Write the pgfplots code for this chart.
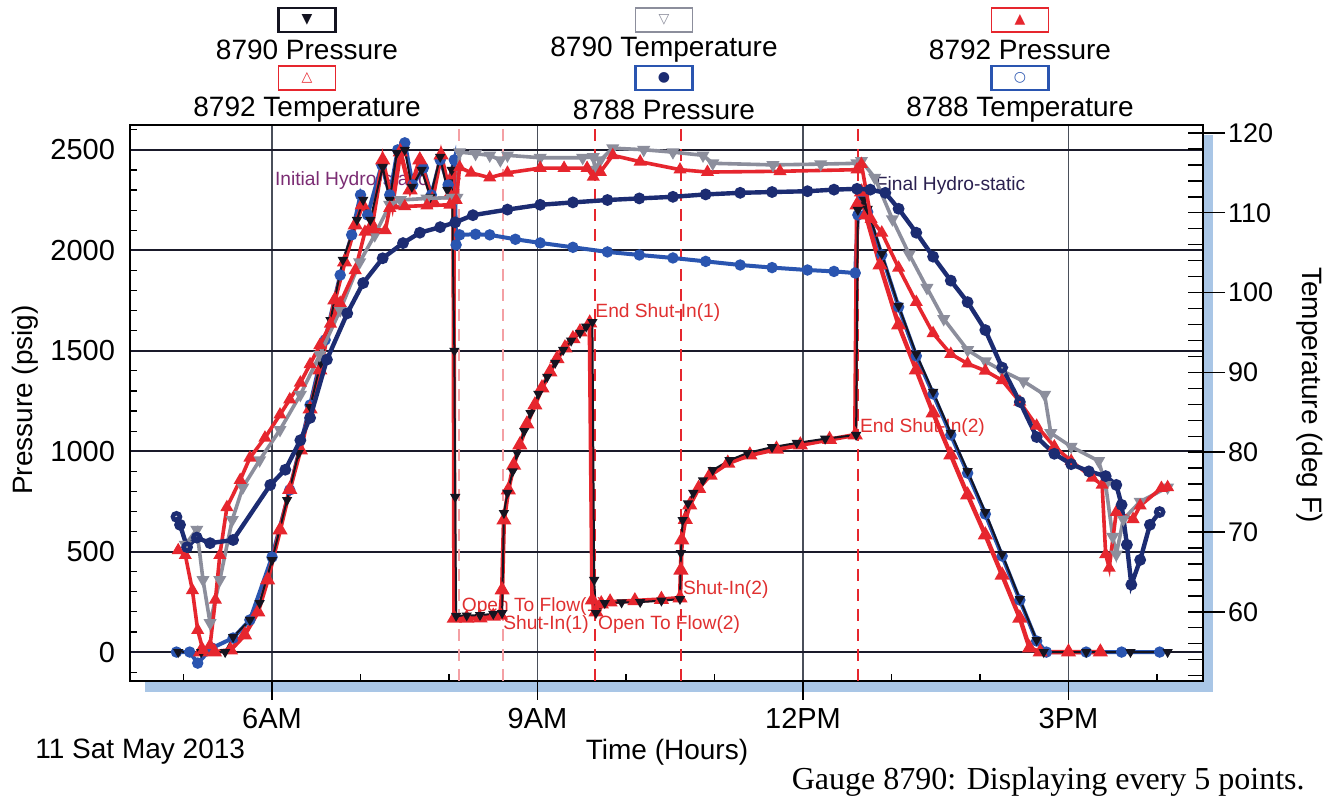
\documentclass[border=0pt]{standalone}
\usepackage{pgfplots}
\pgfplotsset{compat=1.18}
\usepackage{fontspec}
\setmainfont{Liberation Sans}
\newfontfamily\serifface{Liberation Serif}
\newfontfamily\symfont{DejaVu Sans}

\definecolor{cblack}{HTML}{141420}
\definecolor{cred}{HTML}{E6262E}
\definecolor{cblue}{HTML}{2A55B0}
\definecolor{cnavy}{HTML}{1C2C72}
\definecolor{cgray}{HTML}{8C8E9C}
\definecolor{cpink}{HTML}{F4A0A4}
\definecolor{shadowblue}{HTML}{A9C6E6}
\definecolor{gridnavy}{HTML}{1A1A2A}
\definecolor{gridgray}{HTML}{4A4F5A}
\definecolor{annred}{HTML}{E03030}
\definecolor{annpurple}{HTML}{7B2C73}
\definecolor{annnavy}{HTML}{2B2150}

\begin{document}
\begin{tikzpicture}[font=\fontsize{14}{16.8}\selectfont]
\path[use as bounding box] (0,0) rectangle (663.5pt,400.5pt);
% shadow behind plot frame
\fill[shadowblue] (72.5pt,54.5pt) rectangle (606.5pt,333pt);

% ---------- pressure axis (left) ----------
\begin{axis}[
    at={(65pt,60pt)}, anchor=south west,
    scale only axis, width=536.5pt, height=278pt,
    xmin=4.395, xmax=16.52,
    ymin=-144, ymax=2624,
    xtick={6,9,12,15},
    xticklabels={6AM,9AM,12PM,3PM},
    minor xtick={5,7,8,10,11,13,14,16},
    ytick={0,500,1000,1500,2000,2500},
    minor ytick={-100,100,200,300,400,600,700,800,900,1100,1200,1300,1400,1600,1700,1800,1900,2100,2200,2300,2400,2600},
    xtick pos=left, ytick pos=left,
    tick align=inside,
    major tick length=9.5pt,
    minor tick length=3.5pt,
    major x tick style={yshift=-9.5pt, line width=0.6pt, black},
    major y tick style={draw=none},
    minor tick style={line width=0.6pt, black},
    xmajorgrids, ymajorgrids,
    x grid style={gridgray, line width=0.9pt},
    y grid style={gridnavy, line width=1pt},
    axis line style={black, line width=0.8pt},
    axis background/.style={fill=white},
    /pgf/number format/1000 sep={},
    /pgf/number format/assume math mode=true,
    tick label style={font=\fontsize{14.5}{16}\selectfont},
    yticklabel style={xshift=-4pt},
    xticklabel style={yshift=-10pt},
]

% event markers
\addplot[cpink, line width=0.8pt, dash pattern=on 6pt off 4pt] coordinates {(8.11,-144) (8.11,2624)};
\addplot[cpink, line width=0.8pt, dash pattern=on 6pt off 4pt] coordinates {(8.61,-144) (8.61,2624)};
\addplot[cred, line width=0.8pt, dash pattern=on 6pt off 4pt] coordinates {(9.65,-144) (9.65,2624)};
\addplot[cred, line width=0.8pt, dash pattern=on 6pt off 4pt] coordinates {(10.62,-144) (10.62,2624)};
\addplot[cred, line width=0.8pt, dash pattern=on 6pt off 4pt] coordinates {(12.62,-144) (12.62,2624)};

\node[anchor=west, text=annpurple, font=\fontsize{9.6}{11}\selectfont, inner sep=0pt] at (axis cs:6.03,2346) {Initial Hydro-static};
\node[anchor=west, text=annnavy, font=\fontsize{9.6}{11}\selectfont, inner sep=0pt] at (axis cs:12.82,2321) {Final Hydro-static};
\node[anchor=west, text=annred, font=\fontsize{9.6}{11}\selectfont, inner sep=0pt] at (axis cs:9.65,1688) {End Shut-In(1)};
\node[anchor=west, text=annred, font=\fontsize{9.6}{11}\selectfont, inner sep=0pt] at (axis cs:8.14,229) {Open To Flow(1)};
\node[anchor=west, text=annred, font=\fontsize{9.6}{11}\selectfont, inner sep=0pt] at (axis cs:8.61,139) {Shut-In(1)};
\node[anchor=west, text=annred, font=\fontsize{9.6}{11}\selectfont, inner sep=0pt] at (axis cs:9.68,139) {Open To Flow(2)};
\node[anchor=west, text=annred, font=\fontsize{9.6}{11}\selectfont, inner sep=0pt] at (axis cs:10.64,309) {Shut-In(2)};
\node[anchor=west, text=annred, font=\fontsize{9.6}{11}\selectfont, inner sep=0pt] at (axis cs:12.64,1116) {End Shut-In(2)};

% 8788 Pressure
\addplot[cblue, line width=2pt, mark=*, mark size=1.8pt] coordinates {
(4.92,0) (5.07,0) (5.16,-55) (5.32,20) (5.56,70) (5.75,160) (6.00,473) (6.20,807) (6.43,1230)
(6.60,1554) (6.77,1877) (6.90,2077) (7.00,2276) (7.08,2176) (7.24,2425) (7.33,2276) (7.42,2500)
(7.50,2535) (7.59,2326) (7.71,2410) (7.80,2276) (7.90,2450) (7.99,2326) (8.06,2450) (8.08,2027)
(8.12,2077) (8.30,2080) (8.46,2077) (8.75,2055) (9.03,2037) (9.40,2015) (9.79,1992) (10.15,1977)
(10.53,1962) (10.90,1945) (11.29,1927) (11.65,1914) (12.05,1902) (12.35,1895) (12.59,1887)
(12.62,2176) (12.66,2276) (12.73,2191) (12.89,1977) (13.08,1718) (13.28,1474) (13.47,1285)
(13.67,1081) (13.86,891) (14.06,687) (14.25,478) (14.45,259) (14.64,55) (14.75,0) (15.2,0)
(15.6,0) (16.03,0)
};

% 8792 Pressure
\addplot[cred, line width=2.2pt, mark=triangle*, mark size=2.2pt] coordinates {
(5.19,0) (5.35,0) (5.53,10) (5.69,85) (5.84,199) (5.95,359) (6.09,608) (6.20,810) (6.32,1006)
(6.43,1210) (6.54,1404) (6.71,1753) (6.82,1942) (6.94,2126) (7.02,2226) (7.13,2126) (7.25,2450)
(7.36,2226) (7.45,2490) (7.56,2301) (7.67,2450) (7.81,2251) (7.91,2475) (8.01,2276) (8.05,2375)
(8.06,169) (8.20,169) (8.35,170) (8.50,178) (8.58,184) (8.60,309) (8.62,657) (8.67,807)
(8.73,930) (8.80,1031) (8.88,1135) (8.97,1230) (9.05,1315) (9.14,1394) (9.22,1460) (9.31,1514)
(9.40,1560) (9.48,1594) (9.59,1638) (9.62,259) (9.66,199) (9.72,240) (9.82,249) (10.1,255)
(10.4,262) (10.61,269) (10.62,408) (10.63,558) (10.67,660) (10.72,732) (10.82,815) (10.95,881)
(11.15,940) (11.40,981) (11.70,1010) (11.97,1031) (12.30,1058) (12.59,1081) (12.61,2226)
(12.66,2290) (12.71,2176) (12.87,1927) (13.08,1628) (13.28,1404) (13.47,1190) (13.67,981)
(13.86,782) (14.06,583) (14.25,383) (14.45,169) (14.56,20) (14.68,0) (15.0,0) (15.36,0)
};

% 8790 Pressure
\addplot[cblack, line width=1pt, mark=triangle*, mark size=2pt, mark options={rotate=180}] coordinates {
(4.94,0) (5.20,0) (5.47,0) (5.56,75) (5.75,160) (5.86,244) (6.00,458) (6.17,757) (6.30,990)
(6.43,1220) (6.55,1440) (6.66,1653) (6.80,1952) (6.96,2151) (7.03,2251) (7.11,2151) (7.25,2415)
(7.33,2251) (7.41,2485) (7.50,2500) (7.58,2316) (7.69,2400) (7.79,2266) (7.90,2465) (7.98,2301)
(8.03,2400) (8.06,1500) (8.07,772) (8.08,180) (8.20,182) (8.35,184) (8.50,190) (8.60,194)
(8.62,692) (8.66,792) (8.72,900) (8.77,991) (8.85,1100) (8.92,1190) (9.01,1285) (9.11,1370)
(9.20,1440) (9.29,1504) (9.38,1550) (9.48,1589) (9.55,1620) (9.62,1643) (9.64,359) (9.66,194)
(9.76,244) (9.95,247) (10.16,249) (10.40,256) (10.61,264) (10.62,493) (10.64,657) (10.70,740)
(10.76,792) (10.87,855) (10.98,906) (11.17,955) (11.37,991) (11.65,1020) (11.93,1041)
(12.25,1062) (12.60,1081) (12.62,2201) (12.69,2251) (12.73,2206) (12.89,1982) (13.08,1723)
(13.28,1484) (13.47,1295) (13.67,1091) (13.86,901) (14.06,697) (14.25,488) (14.45,264)
(14.64,60) (14.72,0) (15.2,0) (15.7,0) (16.12,0)
};
\end{axis}

% ---------- temperature axis (right) ----------
\begin{axis}[
    at={(65pt,60pt)}, anchor=south west,
    scale only axis, width=536.5pt, height=278pt,
    xmin=4.395, xmax=16.52,
    ymin=51.33, ymax=121.0,
    axis x line=none,
    axis y line*=right,
    ytick={60,70,80,90,100,110,120},
    minor ytick={52,54,56,58,62,64,66,68,72,74,76,78,82,84,86,88,92,94,96,98,102,104,106,108,112,114,116,118},
    tick align=inside,
    major tick length=18.5pt,
    minor tick length=7.5pt,
    major y tick style={xshift=11pt, line width=0.7pt, black},
    minor tick style={line width=0.7pt, black},
    axis line style={black, line width=0.8pt},
    /pgf/number format/assume math mode=true,
    tick label style={font=\fontsize{13.5}{16}\selectfont},
    yticklabel style={xshift=9pt},
]

% 8790 Temperature
\addplot[cgray, line width=1.8pt, mark=triangle, mark size=2pt, mark options={rotate=180}] coordinates {
(5.02,68.4) (5.15,70.3) (5.22,64.0) (5.30,58.6) (5.41,64.0) (5.55,71.5) (5.67,75.6) (5.86,79.0)
(6.09,82.8) (6.32,87.2) (6.54,92.2) (6.77,97.8) (6.99,103.8) (7.16,107.2) (7.33,111.0)
(7.45,111.6) (7.75,111.8) (8.03,111.9) (8.09,111.9) (8.12,117.6) (8.30,117.4) (8.46,117.2)
(8.58,116.6) (8.66,117.2) (9.03,116.9) (9.51,116.9) (9.63,117.0) (9.65,115.4) (9.71,116.6)
(9.85,118.1) (10.20,117.9) (10.53,117.6) (10.87,117.2) (10.98,116.2) (11.66,116.0) (12.20,116.1)
(12.61,116.2) (12.66,116.5) (12.81,114.4) (13.01,109.2) (13.20,104.8) (13.40,100.6) (13.59,96.7)
(13.86,92.8) (14.06,91.4) (14.25,90.2) (14.49,88.9) (14.73,87.2) (14.80,82.4) (15.03,80.7)
(15.34,78.9) (15.42,75.9) (15.50,69.4) (15.54,67.2) (15.62,71.6) (15.81,73.8) (16.12,75.6)
};

% 8792 Temperature
\addplot[cred, line width=1.8pt, mark=triangle, mark size=2pt] coordinates {
(4.94,67.7) (5.02,67.1) (5.10,62.7) (5.16,57.7) (5.22,55.2) (5.30,55.8) (5.36,61.5) (5.41,67.1)
(5.49,73.1) (5.64,76.5) (5.75,79.3) (5.92,81.8) (6.09,84.7) (6.20,86.6) (6.32,88.7) (6.43,91.0)
(6.54,93.4) (6.66,96.1) (6.77,98.7) (6.94,102.8) (7.05,107.6) (7.15,107.9) (7.28,107.8)
(7.33,110.6) (7.50,110.8) (7.75,110.9) (8.01,111.0) (8.08,111.6) (8.12,115.7) (8.25,115.0)
(8.46,114.4) (8.66,115.0) (9.03,115.6) (9.30,115.6) (9.56,115.6) (9.63,114.5) (9.71,115.1)
(9.85,117.2) (10.16,116.4) (10.61,115.4) (10.92,115.1) (11.74,115.2) (12.61,115.4) (12.66,116.1)
(12.77,109.2) (12.89,107.5) (13.08,103.1) (13.28,98.8) (13.47,94.9) (13.67,92.3) (13.86,91.1)
(14.06,90.2) (14.25,89.0) (14.45,86.3) (14.64,83.3) (14.84,80.7) (15.03,78.9) (15.27,76.8)
(15.38,75.9) (15.42,67.2) (15.46,65.5) (15.54,72.5) (15.73,71.6) (15.81,73.3) (16.05,75.5)
(16.12,75.6)
};

% 8788 Temperature
\addplot[cnavy, line width=2.2pt, mark=o, mark size=1.8pt] coordinates {
(4.92,71.9) (4.96,70.9) (5.04,68.1) (5.15,69.3) (5.30,68.6) (5.56,69.0) (5.98,75.9) (6.15,77.8)
(6.32,81.5) (6.43,84.3) (6.62,91.6) (6.85,97.4) (7.03,101.2) (7.25,104.3) (7.48,106.2)
(7.67,107.5) (7.90,108.2) (8.07,108.8) (8.27,109.7) (8.66,110.4) (9.03,111.0) (9.40,111.3)
(9.79,111.6) (10.15,111.8) (10.53,112.0) (10.90,112.3) (11.29,112.5) (11.65,112.6) (12.05,112.7)
(12.35,112.9) (12.61,113.0) (12.76,112.9) (12.93,112.5) (13.08,110.5) (13.28,107.5) (13.47,104.5)
(13.67,101.5) (13.86,98.8) (14.06,95.3) (14.25,90.6) (14.45,86.3) (14.64,81.9) (14.84,79.8)
(15.03,78.5) (15.23,77.6) (15.42,77.0) (15.54,75.9) (15.60,73.4) (15.66,68.4) (15.71,63.4)
(15.81,66.5) (15.92,70.9) (16.03,72.5)
};
\end{axis}

% ---------- outer texts ----------
\node[rotate=90] at (12.5pt,200.5pt) {Pressure (psig)};
\node[rotate=-90] at (655pt,203pt) {Temperature (deg F)};
\node at (333.5pt,24.5pt) {Time (Hours)};
\node[anchor=west, inner sep=0pt] at (17.5pt,24.5pt) {11 Sat May 2013};
\node[anchor=east, inner sep=0pt, font=\serifface\fontsize{16}{18}\selectfont] at (652.5pt,9.5pt) {Gauge 8790: Displaying every 5 points.};

% ---------- legend ----------
\node[draw=cblack, line width=1.3pt, minimum width=28.5pt, minimum height=12pt, inner sep=0pt] at (153.5pt,390.5pt) {\symfont\fontsize{7}{7}\selectfont\textcolor{cblack}{▼}};
\node at (153.5pt,375.5pt) {8790 Pressure};
\node[draw=cgray, line width=0.9pt, minimum width=28.5pt, minimum height=12pt, inner sep=0pt] at (332pt,390.5pt) {\symfont\fontsize{7}{7}\selectfont\textcolor{cgray}{▽}};
\node at (332pt,375.5pt) {8790 Temperature};
\node[draw=cred, line width=0.9pt, minimum width=28.5pt, minimum height=12pt, inner sep=0pt] at (510pt,390.5pt) {\symfont\fontsize{7}{7}\selectfont\textcolor{cred}{▲}};
\node at (510pt,375.5pt) {8792 Pressure};
\node[draw=cred, line width=0.9pt, minimum width=28.5pt, minimum height=12pt, inner sep=0pt] at (153.5pt,361.5pt) {\symfont\fontsize{7}{7}\selectfont\textcolor{cred}{△}};
\node at (153.5pt,345.5pt) {8792 Temperature};
\node[draw=cblue, line width=1.1pt, minimum width=28.5pt, minimum height=12pt, inner sep=0pt] at (332pt,361.5pt) {\symfont\fontsize{7}{7}\selectfont\textcolor{cnavy}{●}};
\node at (332pt,345.5pt) {8788 Pressure};
\node[draw=cblue, line width=1.1pt, minimum width=28.5pt, minimum height=12pt, inner sep=0pt] at (510pt,361.5pt) {\symfont\fontsize{7}{7}\selectfont\textcolor{cblue}{○}};
\node at (510pt,345.5pt) {8788 Temperature};
\end{tikzpicture}
\end{document}
